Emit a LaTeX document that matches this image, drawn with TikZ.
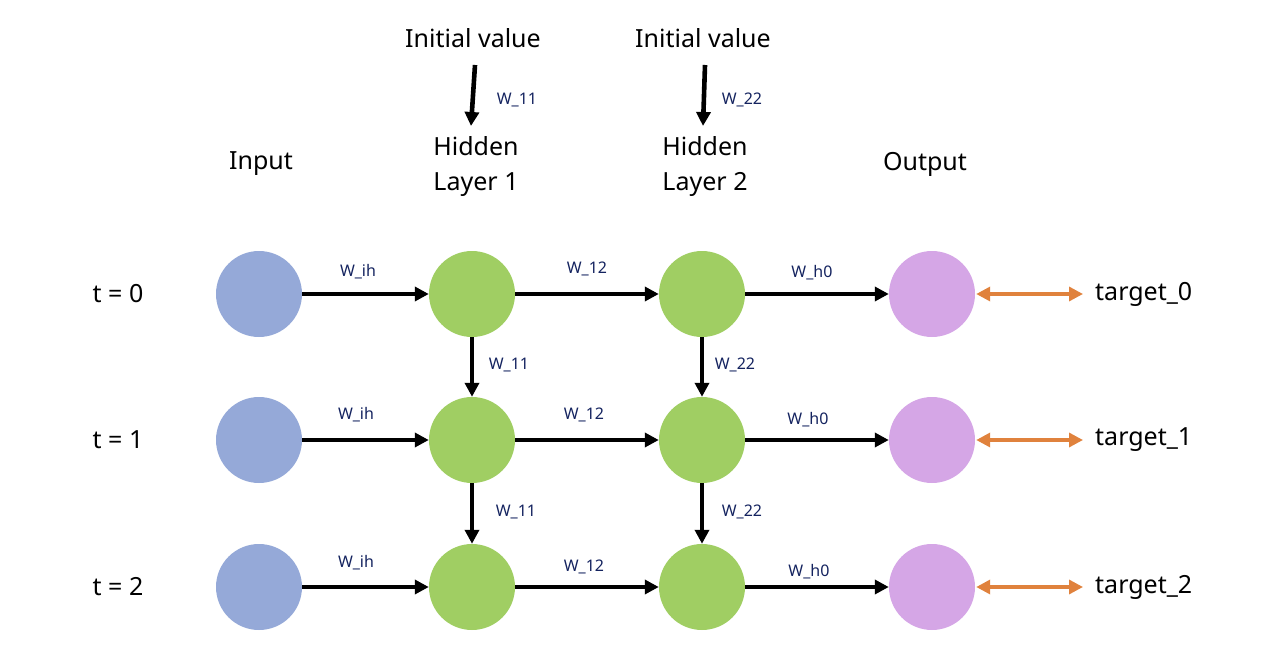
\documentclass[tikz,border=0pt]{standalone}
\usepackage{fontspec}
\setmainfont{Noto Sans}
\usetikzlibrary{arrows.meta}
\definecolor{inblue}{RGB}{149,169,216}
\definecolor{hidgreen}{RGB}{160,206,99}
\definecolor{outpurple}{RGB}{213,166,230}
\definecolor{lblnavy}{RGB}{20,35,95}
\definecolor{tgorange}{RGB}{224,130,61}
\tikzset{
  unit/.style={circle,minimum size=86pt,inner sep=0pt},
  inunit/.style={unit,fill=inblue},
  hidunit/.style={unit,fill=hidgreen},
  outunit/.style={unit,fill=outpurple},
  bigtxt/.style={font=\fontsize{25}{35}\selectfont,align=center,inner sep=0pt},
  wlbl/.style={font=\fontsize{16}{18}\selectfont,text=lblnavy,inner sep=0pt},
  conn/.style={line width=4.6pt,-{Triangle[length=14pt,width=14pt]}},
  tconn/.style={line width=3.3pt,tgorange,{Triangle[length=14pt,width=14pt]}-{Triangle[length=14pt,width=14pt]}}
}
\begin{document}
\begin{tikzpicture}[x=1pt,y=-1pt]
\useasboundingbox (0,0) rectangle (1280,661);
% headers
\node[bigtxt] (iv1) at (473,38) {Initial value};
\node[bigtxt] (iv2) at (703,38) {Initial value};
\node[bigtxt] (hin) at (261,164) {Input};
\node[bigtxt] (hl1) at (476,166) {Hidden\\Layer 1};
\node[bigtxt] (hl2) at (705,166) {Hidden\\Layer 2};
\node[bigtxt] (hout) at (925,164) {Output};
\coordinate (a1s) at (475,65);
\coordinate (a1e) at (471,126);
\coordinate (a2s) at (705,65);
\coordinate (a2e) at (703,126);
\draw[conn] (a1s) -- (a1e);
\draw[conn] (a2s) -- (a2e);
\node[wlbl] (iw1) at (517,100) {W\_11};
\node[wlbl] (iw2) at (742,100) {W\_22};
% rows
\foreach \r/\y/\t in {0/294/0,1/440/1,2/587/2}{
  \node[bigtxt] (t\r) at (118,\y) {t = \t};
  \node[inunit] (i\r) at (259,\y) {};
  \node[hidunit] (h\r) at (472,\y) {};
  \node[hidunit] (k\r) at (702,\y) {};
  \node[outunit] (o\r) at (932,\y) {};
  \node[bigtxt,anchor=west] (tg\r) at (1095,\y) {target\_\t};
  \draw[conn] (i\r) -- (h\r);
  \draw[conn] (h\r) -- (k\r);
  \draw[conn] (k\r) -- (o\r);
  \draw[tconn,shorten <=1pt,shorten >=12pt] (o\r.east) -- (tg\r.west);
}
\draw[conn] (h0) -- (h1);
\draw[conn] (h1) -- (h2);
\draw[conn] (k0) -- (k1);
\draw[conn] (k1) -- (k2);
% edge labels
\node[wlbl] (l0a) at (358,272) {W\_ih};
\node[wlbl] (l0b) at (587,269) {W\_12};
\node[wlbl] (l0c) at (812,273) {W\_h0};
\node[wlbl] (l1a) at (356,415) {W\_ih};
\node[wlbl] (l1b) at (584,415) {W\_12};
\node[wlbl] (l1c) at (808,420) {W\_h0};
\node[wlbl] (l2a) at (356,563) {W\_ih};
\node[wlbl] (l2b) at (584,567) {W\_12};
\node[wlbl] (l2c) at (809,572) {W\_h0};
\node[wlbl] (v1a) at (509,365) {W\_11};
\node[wlbl] (v1b) at (735,365) {W\_22};
\node[wlbl] (v2a) at (516,512) {W\_11};
\node[wlbl] (v2b) at (742,512) {W\_22};
\end{tikzpicture}
\end{document}
